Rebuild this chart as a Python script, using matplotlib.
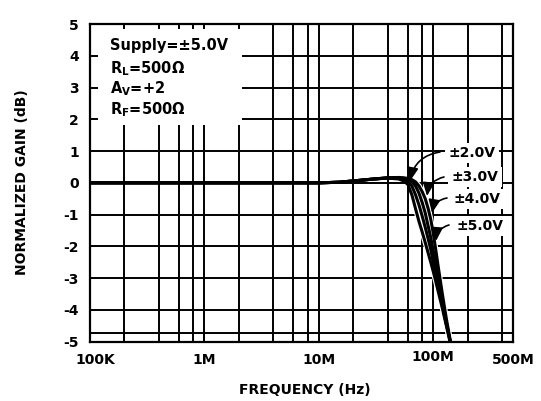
import matplotlib
matplotlib.use("Agg")
import matplotlib.pyplot as plt
import matplotlib.transforms as mtransforms
from matplotlib.patches import Rectangle
import numpy as np

plt.rcParams['font.family'] = ['DejaVu Sans']
plt.rcParams['font.weight'] = 'bold'
plt.rcParams['mathtext.fontset'] = 'custom'
plt.rcParams['mathtext.rm'] = 'DejaVu Sans:bold'
plt.rcParams['mathtext.bf'] = 'DejaVu Sans:bold'
plt.rcParams['mathtext.it'] = 'DejaVu Sans:bold'

# ---- data ----
freq = [1e5, 1e6, 1e7, 1.5e7, 2e7, 3e7, 4e7, 5e7, 5.5e7, 6e7, 6.5e7, 7e7, 7.5e7,
        8e7, 8.5e7, 9e7, 9.5e7, 1e8, 1.05e8, 1.1e8, 1.2e8, 1.3e8, 1.4e8, 1.5e8, 1.6e8]
gain_2v = [0, 0, 0, 0.02, 0.06, 0.12, 0.15, 0.12, 0.06, -0.05, -0.38, -0.82, -1.22,
           -1.55, -1.88, -2.20, -2.50, -2.80, -3.10, -3.40, -3.95, -4.50, -5.00, -5.45, -5.90]
gain_3v = [0, 0, 0, 0.02, 0.06, 0.12, 0.15, 0.14, 0.11, 0.05, -0.10, -0.38, -0.70,
           -1.05, -1.40, -1.75, -2.10, -2.50, -2.85, -3.20, -3.85, -4.45, -4.98, -5.45, -5.90]
gain_4v = [0, 0, 0, 0.02, 0.06, 0.12, 0.16, 0.16, 0.14, 0.11, 0.04, -0.10, -0.33,
           -0.62, -0.95, -1.35, -1.72, -2.15, -2.55, -2.95, -3.70, -4.38, -4.95, -5.45, -5.90]
gain_5v = [0, 0, 0, 0.02, 0.06, 0.12, 0.16, 0.17, 0.16, 0.14, 0.10, 0.03, -0.10,
           -0.28, -0.50, -0.80, -1.15, -1.60, -2.10, -2.60, -3.50, -4.28, -4.92, -5.45, -5.95]
series = [gain_2v, gain_3v, gain_4v, gain_5v]
series_labels = ['±2.0V', '±3.0V', '±4.0V', '±5.0V']

xtick_vals = [1e5, 1e6, 1e7, 1e8, 5e8]
xtick_labels = ['100K', '1M', '10M', '100M', '500M']
ytick_vals = [5, 4, 3, 2, 1, 0, -1, -2, -3, -4, -5]
vgrid = [2e5, 4e5, 6e5, 8e5, 1e6, 2e6, 4e6, 6e6, 8e6, 1e7, 2e7, 4e7, 6e7, 8e7,
         1e8, 2e8, 4e8]
hgrid = [4, 3, 2, 1, 0, -1, -2, -3, -4, -4.73]

# ---- figure ----
W, H = 541, 401
fig = plt.figure(figsize=(W / 100, H / 100), dpi=100)
L, R, T, B = 90, 513.3, 24, 341.7
ax = fig.add_axes([L / W, 1 - B / H, (R - L) / W, (B - T) / H])
ax.set_xscale('log')
ax.set_xlim(1e5, 5e8)
ax.set_ylim(-5, 5)

for v in vgrid:
    ax.axvline(v, color='black', lw=1.4, zorder=1)
for h in hgrid:
    ax.axhline(h, color='black', lw=1.4, zorder=1)

# white halo only in the roll-off part so the curves stay distinct there
start = next(i for i, f in enumerate(freq) if f >= 6.5e7)
for g in series:
    ax.plot(freq[start:], g[start:], color='white', lw=3.8, zorder=2, solid_capstyle='butt')
for g in series:
    ax.plot(freq, g, color='black', lw=2.2, zorder=3, solid_capstyle='butt')

for s in ax.spines.values():
    s.set_linewidth(1.6)
    s.set_zorder(4)

ax.set_xticks(xtick_vals)
ax.set_xticklabels(xtick_labels)
ax.xaxis.set_minor_locator(matplotlib.ticker.NullLocator())
ax.set_yticks(ytick_vals)
ax.set_yticklabels([str(v) for v in ytick_vals])
ax.tick_params(axis='both', length=0, labelsize=10)
ax.tick_params(axis='x', pad=8)
ax.tick_params(axis='y', pad=8)

lbls = ax.get_xticklabels()
lbls[3].set_transform(lbls[3].get_transform() +
                      mtransforms.ScaledTranslation(0, 3 / 100, fig.dpi_scale_trans))
lbls[0].set_transform(lbls[0].get_transform() +
                      mtransforms.ScaledTranslation(5 / 100, 0, fig.dpi_scale_trans))

fig.text(305 / W, 1 - 390 / H, 'FREQUENCY (Hz)', ha='center', va='center', fontsize=10)
fig.text(22 / W, 1 - 182.5 / H, 'NORMALIZED GAIN (dB)', ha='center', va='center',
         rotation=90, fontsize=10)

# info box
ax.add_patch(Rectangle((0.019, 0.682), 0.34, 0.302, transform=ax.transAxes,
                       facecolor='white', edgecolor='none', zorder=4))
info = ['Supply=±5.0V', r'R$_{\mathrm{L}}$=500Ω', r'A$_{\mathrm{V}}$=+2', r'R$_{\mathrm{F}}$=500Ω']
info_y = [0.931, 0.858, 0.795, 0.729]
for t, y in zip(info, info_y):
    ax.text(0.047, y, t, transform=ax.transAxes, ha='left', va='center',
            fontsize=10.5, zorder=5)

# labels with arrows
lab_pix = [(472, 153), (475, 177), (477, 199), (480, 226)]
tail_pix = [(440, 152), (444, 177), (447, 198), (449, 225)]
head_pix = [(410, 181), (427, 196), (432, 213), (436, 241)]
decade = (R - L) / np.log10(5e8 / 1e5)

def pix2data(px, py):
    f = 10 ** (5 + (px - L) / decade)
    d = 5 - (py - T) / ((B - T) / 10)
    return f, d

for lab, (lx, ly), (tx, ty), (hx, hy) in zip(series_labels, lab_pix, tail_pix, head_pix):
    ax.text(*pix2data(lx, ly), lab, ha='center', va='center', fontsize=10, zorder=6,
            bbox=dict(facecolor='white', edgecolor='none', pad=2.5))
    ax.annotate('', xy=pix2data(hx, hy), xytext=pix2data(tx, ty),
                arrowprops=dict(arrowstyle='-|>,head_length=0.8,head_width=0.35',
                                color='black', lw=1.2,
                                connectionstyle='arc3,rad=0.35',
                                shrinkA=0, shrinkB=0), zorder=7)

fig.savefig('out.png', dpi=100)
